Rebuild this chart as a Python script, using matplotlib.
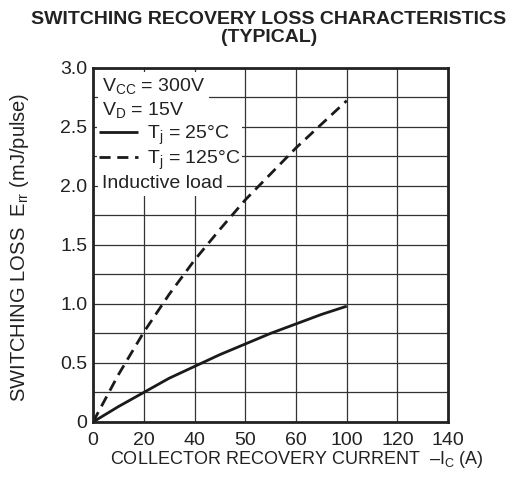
import matplotlib
matplotlib.use("Agg")
import matplotlib.pyplot as plt
from matplotlib.ticker import MultipleLocator

plt.rcParams['font.family'] = ['Liberation Sans', 'DejaVu Sans']
plt.rcParams['mathtext.fontset'] = 'custom'
plt.rcParams['mathtext.rm'] = 'Liberation Sans'
plt.rcParams['mathtext.it'] = 'Liberation Sans'
plt.rcParams['mathtext.default'] = 'regular'

# collector current (A) and recovery loss (mJ/pulse)
ic = [0, 10, 20, 30, 40, 50, 60, 70, 80, 90, 100]
err_25 = [0, 0.13, 0.25, 0.37, 0.47, 0.57, 0.66, 0.75, 0.83, 0.91, 0.98]
err_125 = [0, 0.40, 0.76, 1.08, 1.37, 1.63, 1.88, 2.10, 2.32, 2.52, 2.72]

xticks = [0, 20, 40, 60, 80, 100, 120, 140]
xtick_labels = ["0", "20", "40", "50", "60", "100", "120", "140"]
yticks = [0, 0.5, 1.0, 1.5, 2.0, 2.5, 3.0]
ytick_labels = ["0", "0.5", "1.0", "1.5", "2.0", "2.5", "3.0"]

fig = plt.figure(figsize=(5.14, 4.97), dpi=100)
ax = fig.add_axes([0.181, 0.151, 0.691, 0.713])

ax.set_xlim(0, 140)
ax.set_ylim(0, 3.0)
ax.set_xticks(xticks)
ax.set_xticklabels(xtick_labels)
ax.set_yticks(yticks)
ax.set_yticklabels(ytick_labels)
ax.yaxis.set_minor_locator(MultipleLocator(0.25))
ax.tick_params(which='both', length=0, labelsize=14, colors='#222222')
ax.tick_params(axis='x', pad=7)
ax.tick_params(axis='y', pad=4)
ax.grid(True, which='both', color='#333333', linewidth=0.9)
ax.set_axisbelow(True)
for s in ax.spines.values():
    s.set_linewidth(2.0)
    s.set_color('#222222')

l1, = ax.plot(ic, err_25, color='#1a1a1a', lw=2.0, solid_capstyle='butt')
l2, = ax.plot(ic, err_125, color='#1a1a1a', lw=2.0, linestyle=(0, (4, 2.4)))

# legend block: plain text rows on white, the two curve samples via ax.legend
tkw = dict(transform=ax.transAxes, fontsize=14, color='#222222', va='center', ha='left',
           bbox=dict(facecolor='white', edgecolor='none', pad=3))
ax.text(0.025, 0.947, r"V$_{\mathrm{CC}}$ = 300V", **tkw)
ax.text(0.025, 0.880, r"V$_{\mathrm{D}}$ = 15V    ", **tkw)
ax.text(0.025, 0.674, "Inductive load", **tkw)

leg = ax.legend([l1, l2], [r"T$_{\mathrm{j}}$ = 25°C", r"T$_{\mathrm{j}}$ = 125°C"],
                loc='upper left', bbox_to_anchor=(0.012, 0.848), fontsize=14,
                frameon=True, facecolor='white', edgecolor='none', framealpha=1,
                fancybox=False, borderpad=0.1, handlelength=2.0, handletextpad=0.45,
                labelspacing=0.12, borderaxespad=0)
for t in leg.get_texts():
    t.set_color('#222222')

fig.text(0.523, 0.978, "SWITCHING RECOVERY LOSS CHARACTERISTICS\n(TYPICAL)",
         ha='center', va='top', fontsize=14, fontweight='bold', color='#222222',
         linespacing=1.05)
fig.text(0.577, 0.076, r"COLLECTOR RECOVERY CURRENT  –I$_{\mathrm{C}}$ (A)",
         ha='center', va='center', fontsize=13, color='#222222')
fig.text(0.038, 0.503, r"SWITCHING LOSS  E$_{\mathrm{rr}}$ (mJ/pulse)",
         ha='center', va='center', rotation=90, fontsize=14.5, color='#222222')

fig.savefig("out.png", dpi=100)
